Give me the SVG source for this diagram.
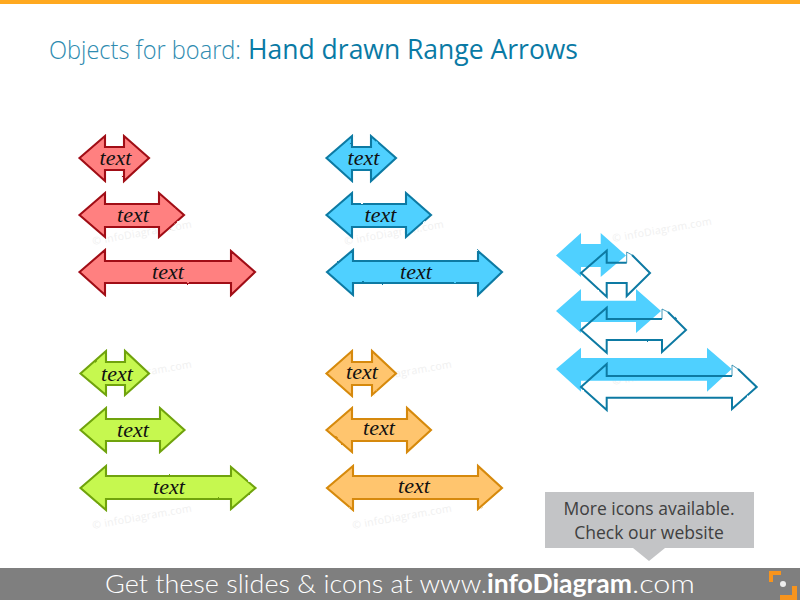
<svg xmlns="http://www.w3.org/2000/svg" width="800" height="600" viewBox="0 0 800 600">
<style>
.a{stroke-width:2.100;stroke-linejoin:miter;filter:url(#rough)}
.r{fill:#ff8080;stroke:#a00c14}
.b{fill:#4fd0ff;stroke:#0a7aa3}
.g{fill:#c6f84f;stroke:#6fa30a}
.o{fill:#ffc56e;stroke:#d68908}
.s{fill:#4fd0ff}
.l{fill:none;stroke:#0a7aa3;stroke-width:2;filter:url(#rough)}
.f{fill:none;stroke:#0a7aa3;stroke-width:1;opacity:.75}
.t{font-family:"Liberation Serif",serif;font-style:italic;font-size:22px;fill:#111;text-anchor:middle}
.w{font-family:"Open Sans",sans-serif;font-size:10.500px;fill:#f0f0f0;letter-spacing:.3px}
</style>
<defs>
<filter id="rough" x="-5%" y="-10%" width="110%" height="120%">
<feTurbulence type="fractalNoise" baseFrequency="0.15" numOctaves="2" seed="4"/>
<feDisplacementMap in="SourceGraphic" scale="1.6" xChannelSelector="R" yChannelSelector="G"/>
</filter>
</defs>
<rect width="800" height="600" fill="#fff"/>
<rect id="top-bar" width="800" height="4" fill="#ffa91f"/>
<g id="title"><text x="49" y="59" font-family="'Open Sans',sans-serif" font-size="25px" font-weight="300" fill="#2e8bb0" textLength="192" lengthAdjust="spacingAndGlyphs">Objects for board:</text><text x="248" y="59" font-family="'Open Sans',sans-serif" font-size="27px" fill="#0a7aa5" textLength="330" lengthAdjust="spacingAndGlyphs">Hand drawn Range Arrows</text></g>
<g id="watermarks">
<text class="w" transform="translate(93 245) rotate(-10)">© infoDiagram.com</text>
<text class="w" transform="translate(345 245) rotate(-10)">© infoDiagram.com</text>
<text class="w" transform="translate(613 242) rotate(-10)">© infoDiagram.com</text>
<text class="w" transform="translate(613 385) rotate(-10)">© infoDiagram.com</text>
<text class="w" transform="translate(93 385) rotate(-10)">© infoDiagram.com</text>
<text class="w" transform="translate(353 385) rotate(-10)">© infoDiagram.com</text>
<text class="w" transform="translate(93 529) rotate(-10)">© infoDiagram.com</text>
<text class="w" transform="translate(353 529) rotate(-10)">© infoDiagram.com</text>
</g>
<g id="red-1"><path class="a r" d="M79.5 158L105 136V147H124V136L149 158L124 181V170H105V181Z"/><text class="t" x="115.500" y="165">text</text></g>
<g id="red-2"><path class="a r" d="M79.500 215L105 193V204H159V193L184 215L159 237V227H105V237Z"/><text class="t" x="133" y="222">text</text></g>
<g id="red-3"><path class="a r" d="M79.500 272L105 250V261H231V251L255 272L231 295V283H105V295Z"/><text class="t" x="168" y="279">text</text></g>
<g id="blue-1"><path class="a b" d="M326.500 158L352 136V147H371V136L396 158L371 181V170H352V181Z"/><text class="t" x="363.500" y="165">text</text></g>
<g id="blue-2"><path class="a b" d="M326.500 215L352 193V204H406V193L431 215L406 237V227H352V237Z"/><text class="t" x="380.500" y="222">text</text></g>
<g id="blue-3"><path class="a b" d="M327 272L353 250V261H478V251L502 272L478 295V283H353V295Z"/><text class="t" x="416" y="279">text</text></g>
<g id="green-1"><path class="a g" d="M80.500 373.500L106 351V362H125V351L149 373.500L125 395V385H106V395Z"/><text class="t" x="117" y="381">text</text></g>
<g id="green-2"><path class="a g" d="M80.500 430L106 408V419H160V408L184.500 430L160 452V441H106V452Z"/><text class="t" x="133" y="437">text</text></g>
<g id="green-3"><path class="a g" d="M80.500 488L106 466V476H231V467L255.500 488L231 509V499H106V510Z"/><text class="t" x="169" y="494">text</text></g>
<g id="orange-1"><path class="a o" d="M326.500 373.500L352 351V362H372V351L396 373.500L372 395V385H352V396Z"/><text class="t" x="362" y="379">text</text></g>
<g id="orange-2"><path class="a o" d="M326.500 430L352 408V419H407V408L431 430L407 452V441H352V452Z"/><text class="t" x="379" y="435">text</text></g>
<g id="orange-3"><path class="a o" d="M327 488L353 466V476H478V466L502 488L478 509V499H353V510Z"/><text class="t" x="414" y="493">text</text></g>
<g id="solid-1"><path class="s" d="M556 255.500L581 233V244H600.700V233L626 255.500L600.700 277V267H581V277Z"/></g>
<g id="solid-2"><path class="s" d="M556 311L581 289V300.700H636V289L661 311L636 333V322H581V333Z"/></g>
<g id="solid-3"><path class="s" d="M556 369L581 347.700V358H707V347.700L731.700 369L707 391.700V380.700H581V391.700Z"/></g>
<g id="outline-1"><path class="l" d="M626.700 262.700H606.700V250.700L581 273L606.700 296.700V283H626.700V296L650 273L632 255"/><path class="f" d="M626.700 262.700V252L632 255"/></g>
<g id="outline-2"><path class="l" d="M662 319H606.700V307.700L581 330L606.700 352.700V340H662V352L686 330L668 312"/><path class="f" d="M662 319V309L668 312"/></g>
<g id="outline-3"><path class="l" d="M732 376H606.700V364L581 387L606.700 410V397.700H732V409L756.700 387L738 369"/><path class="f" d="M732 376V365L738 369"/></g>
<g id="callout"><path d="M545 492H754V548H665L649 561L633 548H545Z" fill="#c3c4c6"/><text x="649" y="515" font-family="'Open Sans',sans-serif" font-size="17.500px" fill="#404040" text-anchor="middle">More icons available.</text><text x="649" y="539" font-family="'Open Sans',sans-serif" font-size="17.500px" fill="#404040" text-anchor="middle">Check our website</text></g>
<g id="footer"><rect y="568" width="800" height="32" fill="#7f7f7f"/><text y="593" font-family="Lato,sans-serif" font-size="26px" font-weight="300" fill="#fff"><tspan x="105" textLength="382" lengthAdjust="spacingAndGlyphs">Get these slides &amp; icons at www.</tspan><tspan x="487" textLength="145" lengthAdjust="spacingAndGlyphs" font-weight="700">infoDiagram</tspan><tspan x="632" textLength="63" lengthAdjust="spacingAndGlyphs">.com</tspan></text>
<path d="M781 571H769V582H773V575H781ZM780 600H797V586H792V595H780Z" fill="#f7941d"/><circle cx="783" cy="584" r="3" fill="#eee"/></g>
</svg>
